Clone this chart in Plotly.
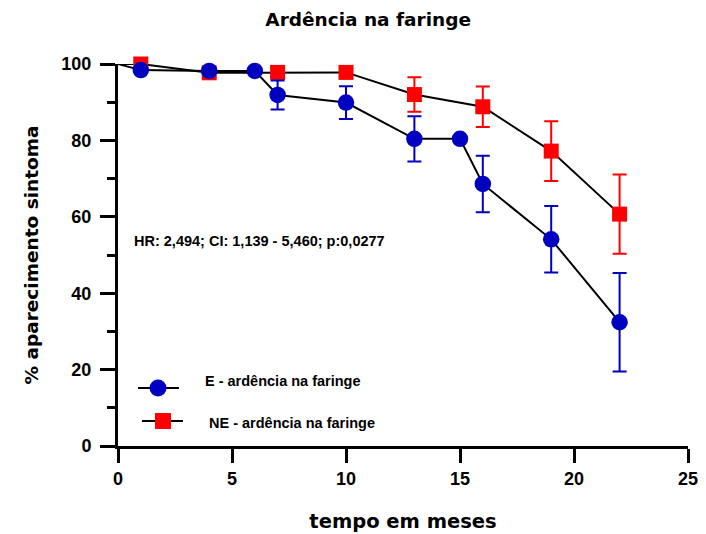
import plotly.graph_objects as go

# ---- data ----
months_E = [0, 1, 4, 6, 7, 10, 13, 15, 16, 19, 22]
pct_E = [100, 98.4, 98.2, 98.2, 91.9, 89.9, 80.4, 80.4, 68.6, 54.1, 32.4]
err_E = [0, 0, 0, 0, 3.8, 4.3, 5.9, 0, 7.4, 8.7, 12.9]

months_NE = [0, 1, 4, 7, 10, 13, 16, 19, 22]
pct_NE = [100, 100, 97.7, 97.8, 97.8, 92.0, 88.8, 77.2, 60.7]
err_NE = [0, 0, 0, 0, 0, 4.5, 5.3, 7.8, 10.4]

name_E = "E - ardência na faringe"
name_NE = "NE - ardência na faringe"
title = "Ardência na faringe"
x_title = "tempo em meses"
y_title = "% aparecimento sintoma"
stats_text = "HR: 2,494; CI: 1,139 - 5,460; p:0,0277"
x_ticks = [0, 5, 10, 15, 20, 25]
y_ticks = [0, 20, 40, 60, 80, 100]

BLUE = "#0000C0"
RED = "#FF0000"
ARIAL = "Liberation Sans, Arial, sans-serif"
WIDE = "DejaVu Sans, Liberation Sans, sans-serif"

fig = go.Figure()

def add_series(x, y, err, color, symbol, size, name):
    # full curve including the origin point (no marker)
    fig.add_trace(go.Scatter(
        x=x, y=y, mode="lines", line=dict(color="black", width=2),
        showlegend=False, hoverinfo="skip", cliponaxis=False))
    fig.add_trace(go.Scatter(
        x=x[1:], y=y[1:], mode="markers", name=name,
        marker=dict(color=color, symbol=symbol, size=size, line=dict(width=0)),
        error_y=dict(type="data", array=err[1:], visible=True,
                     color=color, thickness=2, width=7),
        showlegend=False, cliponaxis=False))

add_series(months_NE, pct_NE, err_NE, RED, "square", 15, name_NE)
add_series(months_E, pct_E, err_E, BLUE, "circle", 16.5, name_E)

fig.add_annotation(
    text=stats_text, xref="paper", yref="paper", x=0.0246, y=0.537,
    xanchor="left", yanchor="middle", showarrow=False,
    font=dict(family=ARIAL, size=14.5, color="black", weight="bold"))

# ---- hand-placed legend (key line + marker + label) ----
legend_rows = [
    # (label, colour, shape type, line x0, line x1, marker x, key y, label x, label y, half size)
    (name_E, BLUE, "circle", 0.0351, 0.1070, 0.0702, 0.1518, 0.149, 0.170, 8.5),
    (name_NE, RED, "rect", 0.0421, 0.1140, 0.0789, 0.0654, 0.156, 0.060, 8.0),
]
for label, col, shp, lx0, lx1, mx, ky, tx, ty, hs in legend_rows:
    fig.add_shape(type="line", xref="paper", yref="paper",
                  x0=lx0, x1=lx1, y0=ky, y1=ky,
                  line=dict(color="black", width=2))
    fig.add_shape(type=shp, xref="paper", yref="paper",
                  xsizemode="pixel", ysizemode="pixel",
                  xanchor=mx, yanchor=ky, x0=-hs, x1=hs, y0=-hs, y1=hs,
                  fillcolor=col, line=dict(width=0))
    fig.add_annotation(text=label, xref="paper", yref="paper", x=tx, y=ty,
                       xanchor="left", yanchor="middle", showarrow=False,
                       font=dict(family=ARIAL, size=14.5, color="black", weight="bold"))

axis_common = dict(
    showline=True, linecolor="black", linewidth=3, mirror=False,
    ticks="outside", tickcolor="black", tickwidth=3,
    showgrid=False, zeroline=False,
    tickfont=dict(family=ARIAL, size=18, color="black", weight="bold"),
)

fig.update_xaxes(
    range=[0, 25], tickvals=x_ticks, ticklen=14, **axis_common,
    title=dict(text=x_title, standoff=27,
               font=dict(family=WIDE, size=19.5, color="black", weight="bold")))
fig.update_yaxes(
    range=[0, 100], tickvals=y_ticks, ticklen=15, ticklabelstandoff=5, **axis_common,
    minor=dict(dtick=10, ticklen=8, tickwidth=3, tickcolor="black", ticks="outside"),
    title=dict(text=y_title, standoff=18,
               font=dict(family=WIDE, size=18.5, color="black", weight="bold")))

# the page adds an 8px body margin, so the figure is 8px smaller on each axis
fig.update_layout(
    width=698, height=526,
    margin=dict(l=110, r=18, t=56, b=88, autoexpand=False),
    plot_bgcolor="white", paper_bgcolor="white",
    title=dict(text=title, x=0.516, xanchor="center", y=0.979, yanchor="middle",
               font=dict(family=WIDE, size=18.5, color="black", weight="bold")),
    showlegend=False,
)

fig.write_html("out.html")
